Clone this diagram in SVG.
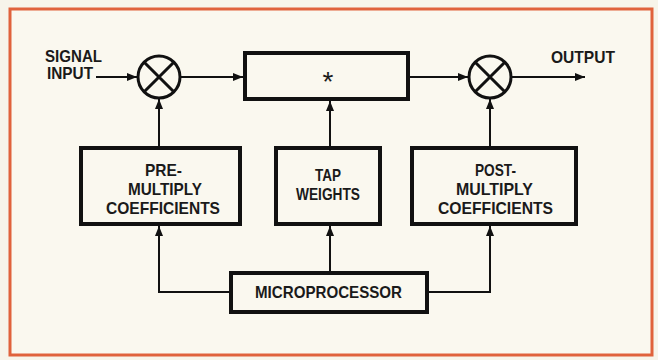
<svg xmlns="http://www.w3.org/2000/svg" width="658" height="360" viewBox="0 0 658 360">
<defs>
<marker id="ah" viewBox="0 0 10 8" refX="10" refY="4" markerWidth="10" markerHeight="8" markerUnits="userSpaceOnUse" orient="auto">
<path d="M0,0 L10,4 L0,8 Z" fill="#111"/>
</marker>
</defs>
<style>
.bx{fill:none;stroke:#111;stroke-width:4}
.ln{fill:none;stroke:#111;stroke-width:2}
.cr{fill:none;stroke:#111;stroke-width:3}
text{font-family:"Liberation Sans",Arial,sans-serif;font-weight:bold;font-size:16.5px;fill:#1a1a1a}
</style>
<rect x="0" y="0" width="658" height="360" fill="#f7f4ea"/>
<rect x="10" y="9" width="642" height="346" fill="#faf8ef" stroke="#e0623c" stroke-width="3"/>

<g id="signal-input">
<text x="45" y="62" textLength="57" lengthAdjust="spacingAndGlyphs">SIGNAL</text>
<text x="47" y="79" textLength="46" lengthAdjust="spacingAndGlyphs">INPUT</text>
</g>
<g id="mult1">
<circle class="cr" cx="159" cy="77" r="21"/>
<path class="cr" d="M144.2,62.2 L173.8,91.8 M173.8,62.2 L144.2,91.8"/>
</g>
<g id="conv">
<rect class="bx" x="245" y="53" width="163" height="46"/>
<text x="328" y="91" text-anchor="middle" style="font-size:28px;font-weight:normal">*</text>
</g>
<g id="mult2">
<circle class="cr" cx="490" cy="77" r="21"/>
<path class="cr" d="M475.2,62.2 L504.8,91.8 M504.8,62.2 L475.2,91.8"/>
</g>
<g id="output">
<text x="551" y="63" textLength="64" lengthAdjust="spacingAndGlyphs">OUTPUT</text>
</g>
<g id="pre">
<rect class="bx" x="81" y="148" width="159" height="76"/>
<text x="145" y="176" textLength="37" lengthAdjust="spacingAndGlyphs">PRE-</text>
<text x="128" y="195" textLength="74" lengthAdjust="spacingAndGlyphs">MULTIPLY</text>
<text x="106" y="214" textLength="114" lengthAdjust="spacingAndGlyphs">COEFFICIENTS</text>
</g>
<g id="tap">
<rect class="bx" x="276" y="148" width="104" height="76"/>
<text x="315" y="181" textLength="26" lengthAdjust="spacingAndGlyphs">TAP</text>
<text x="296" y="200" textLength="64" lengthAdjust="spacingAndGlyphs">WEIGHTS</text>
</g>
<g id="post">
<rect class="bx" x="412" y="148" width="164" height="76"/>
<text x="475" y="176" textLength="41" lengthAdjust="spacingAndGlyphs">POST-</text>
<text x="456" y="195" textLength="77" lengthAdjust="spacingAndGlyphs">MULTIPLY</text>
<text x="438" y="214" textLength="115" lengthAdjust="spacingAndGlyphs">COEFFICIENTS</text>
</g>
<g id="micro">
<rect class="bx" x="231" y="273" width="196" height="39"/>
<text x="255" y="298" textLength="147" lengthAdjust="spacingAndGlyphs">MICROPROCESSOR</text>
</g>

<g id="connectors">
<path class="ln" d="M96,77 L137,77" marker-end="url(#ah)"/>
<path class="ln" d="M180,77 L243,77" marker-end="url(#ah)"/>
<path class="ln" d="M410,77 L468,77" marker-end="url(#ah)"/>
<path class="ln" d="M511,77 L585,77" marker-end="url(#ah)"/>
<path class="ln" d="M159,146 L159,99" marker-end="url(#ah)"/>
<path class="ln" d="M330,146 L330,101" marker-end="url(#ah)"/>
<path class="ln" d="M490,146 L490,99" marker-end="url(#ah)"/>
<path class="ln" d="M229,292 L159,292 L159,226" marker-end="url(#ah)"/>
<path class="ln" d="M330,271 L330,226" marker-end="url(#ah)"/>
<path class="ln" d="M429,292 L490,292 L490,226" marker-end="url(#ah)"/>
</g>
</svg>
